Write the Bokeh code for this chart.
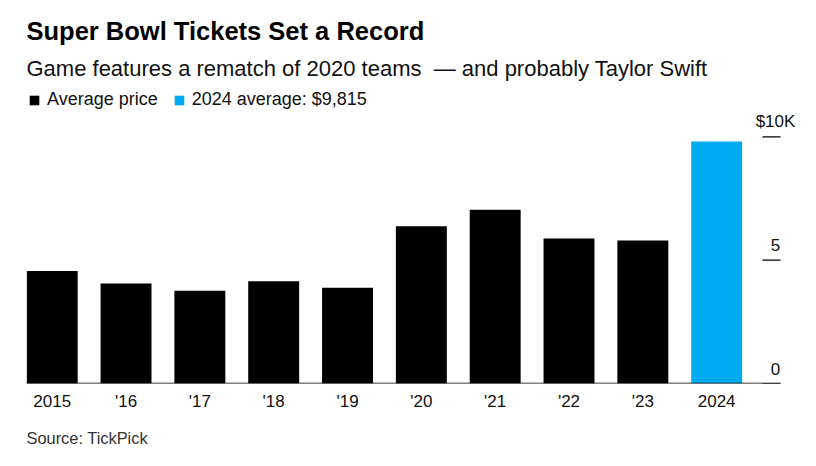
from bokeh.plotting import figure
from bokeh.models import (Range1d, FixedTicker, Title, Legend, LegendItem,
                          ColumnDataSource, Label)
from bokeh.embed import file_html
from bokeh.resources import INLINE

# ---- data ----
years = ["2015", "'16", "'17", "'18", "'19", "'20", "'21", "'22", "'23", "2024"]
avg_price_k = [4.56, 4.05, 3.76, 4.15, 3.88, 6.37, 7.04, 5.88, 5.80, 9.815]
highlight = [False] * 9 + [True]
y_ticks = [0, 5, 10]
y_tick_labels = ["0", "5", "$10K"]

title_text = "Super Bowl Tickets Set a Record"
subtitle_text = "Game features a rematch of 2020 teams \u00a0\u2014 and probably Taylor Swift"
source_text = "Source: TickPick"
legend_labels = ["Average price", "2024 average: $9,815"]

BLACK = "#000000"
BLUE = "#00ABF2"
FONT = "Liberation Sans"

# ---- layout (pixels) ----
W, H = 810, 460
BORDER_L = 26
BORDER_T = 87
PX_PER_CAT = 73.83          # horizontal pixels per category
FIRST_CENTER_OFFSET = 25.7  # px from frame left to first bar centre
x_start = -FIRST_CENTER_OFFSET / PX_PER_CAT
x_end = x_start + (W - BORDER_L) / PX_PER_CAT

def px_to_x(px_from_frame_left):
    return x_start + px_from_frame_left / PX_PER_CAT

base_end = px_to_x(754)     # where the baseline / ticks end
tick_start = px_to_x(736)
label_x = px_to_x(749)

idx = list(range(len(years)))
base = dict(x=[i for i, h in zip(idx, highlight) if not h],
            top=[v for v, h in zip(avg_price_k, highlight) if not h])
hi = dict(x=[i for i, h in zip(idx, highlight) if h],
          top=[v for v, h in zip(avg_price_k, highlight) if h])

p = figure(width=W, height=H, output_backend="svg", toolbar_location=None,
           x_range=Range1d(x_start, x_end), y_range=Range1d(0, 12),
           min_border_left=BORDER_L, min_border_right=0, min_border_top=BORDER_T,
           min_border_bottom=0)
p.title.visible = False
p.outline_line_color = None
p.xgrid.visible = False
p.ygrid.visible = False
p.yaxis.visible = False
p.background_fill_color = "white"
p.border_fill_color = "white"

r1 = p.vbar(x="x", top="top", width=0.69, source=ColumnDataSource(base),
            fill_color=BLACK, line_color=None)
r2 = p.vbar(x="x", top="top", width=0.69, source=ColumnDataSource(hi),
            fill_color=BLUE, line_color=None)

# baseline
p.segment(x0=[x_start], x1=[base_end], y0=[0], y1=[0], line_color=BLACK, line_width=1.3)

# x axis labels
p.xaxis.ticker = FixedTicker(ticks=idx)
p.xaxis.major_label_overrides = {i: y for i, y in zip(idx, years)}
p.xaxis.major_tick_line_color = None
p.xaxis.minor_tick_line_color = None
p.xaxis.axis_line_color = None
p.xaxis.major_label_text_font = FONT
p.xaxis.major_label_text_font_size = "17px"
p.xaxis.major_label_text_color = "#111111"
p.xaxis.major_label_standoff = 2

# y ticks (right side) with labels above them
p.segment(x0=[tick_start] * len(y_ticks), x1=[base_end] * len(y_ticks),
          y0=y_ticks, y1=y_ticks, line_color=BLACK, line_width=1.2)
for t, lab in zip(y_ticks, y_tick_labels):
    p.add_layout(Label(x=label_x, y=t, text=lab, y_offset=15,
                       text_align="center", text_baseline="alphabetic",
                       text_font=FONT, text_font_size="17px", text_color="#111111"))

# legend (inside frame, top-left)
legend = Legend(items=[LegendItem(label=legend_labels[0], renderers=[r1]),
                       LegendItem(label=legend_labels[1], renderers=[r2])],
                orientation="horizontal", location="top_left",
                glyph_width=12, glyph_height=12, label_standoff=7, spacing=15,
                padding=0, margin=2, border_line_color=None, background_fill_alpha=0,
                label_text_font=FONT, label_text_font_size="18px", label_text_color="#111111",
                label_height=12)
p.add_layout(legend)

sub = Title(text=subtitle_text, text_font=FONT, text_font_size="22px",
            text_font_style="normal", text_color="#111111", standoff=14)
ttl = Title(text=title_text, text_font=FONT, text_font_size="25.5px",
            text_font_style="bold", text_color="#000000", standoff=4)
p.add_layout(sub, "above")
p.add_layout(ttl, "above")

src = Title(text=source_text, text_font=FONT, text_font_size="16.4px",
            text_font_style="normal", text_color="#333333", standoff=27)
p.add_layout(src, "below")

open("out.html", "w").write(file_html(p, INLINE))
